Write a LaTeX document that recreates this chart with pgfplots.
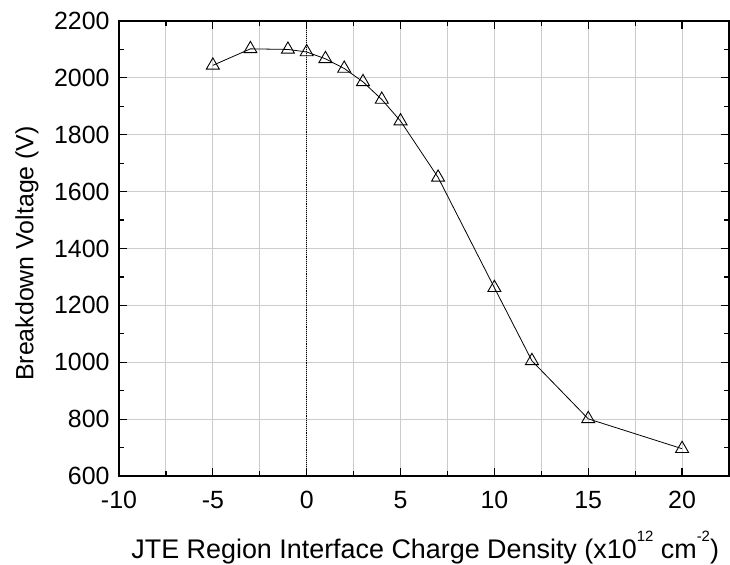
\documentclass[border=0pt]{standalone}
\usepackage{pgfplots}
\pgfplotsset{compat=1.18}
\usepackage{fontspec}
\setmainfont{Liberation Sans}
\newcommand{\supx}[1]{\raisebox{0.62em}{\fontsize{15}{15}\selectfont #1}}
\begin{document}
\fontsize{25}{29}\selectfont
\begin{tikzpicture}[x=1bp,y=1bp]
\begin{axis}[
  at={(0,0)}, anchor=south west,
  scale only axis,
  width=610bp, height=455bp,
  xmin=-10, xmax=22.5, ymin=600, ymax=2200,
  xtick={-10,-5,...,20},
  minor xtick={-7.5,-2.5,2.5,7.5,12.5,17.5,22.5},
  ytick={600,800,...,2200},
  minor ytick={700,900,...,2100},
  tick align=inside,
  major tick length=8bp, minor tick length=5bp,
  tick style={black, line width=1.2pt},
  xtick pos=both, ytick pos=both,
  yticklabel pos=left, xticklabel pos=bottom,
  grid=both,
  major grid style={gray!40, line width=0.9pt},
  minor x grid style={gray!40, line width=0.9pt},
  minor y grid style={draw=none},
  axis line style={line width=1.4pt},
  /pgf/number format/assume math mode=true,
  /pgf/number format/1000 sep={},
  tick label style={font=\fontsize{25}{29}\selectfont},
  xticklabel style={yshift=-7bp},
  yticklabel style={xshift=-1bp},
  xlabel={JTE Region Interface Charge Density (x10\supx{12} cm\supx{-2})},
  ylabel={Breakdown Voltage (V)},
  xlabel style={font=\fontsize{27}{30}\selectfont, at={(rel axis cs:0.502,-0.157)}, anchor=center},
  ylabel style={font=\fontsize{25}{29}\selectfont, at={(rel axis cs:-0.151,0.489)}, anchor=center},
]
\addplot[black, densely dotted, line width=0.9pt] coordinates {(0,600) (0,2200)};
\addplot[black, line width=0.8pt, mark=triangle, mark size=7.5bp,
  mark options={fill=white, solid, line width=0.9pt}] coordinates {
(-5,2044) (-3,2102) (-1,2100) (0,2091) (1,2067) (2,2033) (3,1986) (4,1924)
(5,1848) (7,1650) (10,1262) (12,1005) (15,801) (20,696)
};
\end{axis}
\pgfresetboundingbox
\useasboundingbox (-119,-89) rectangle (611,476);
\end{tikzpicture}
\end{document}
